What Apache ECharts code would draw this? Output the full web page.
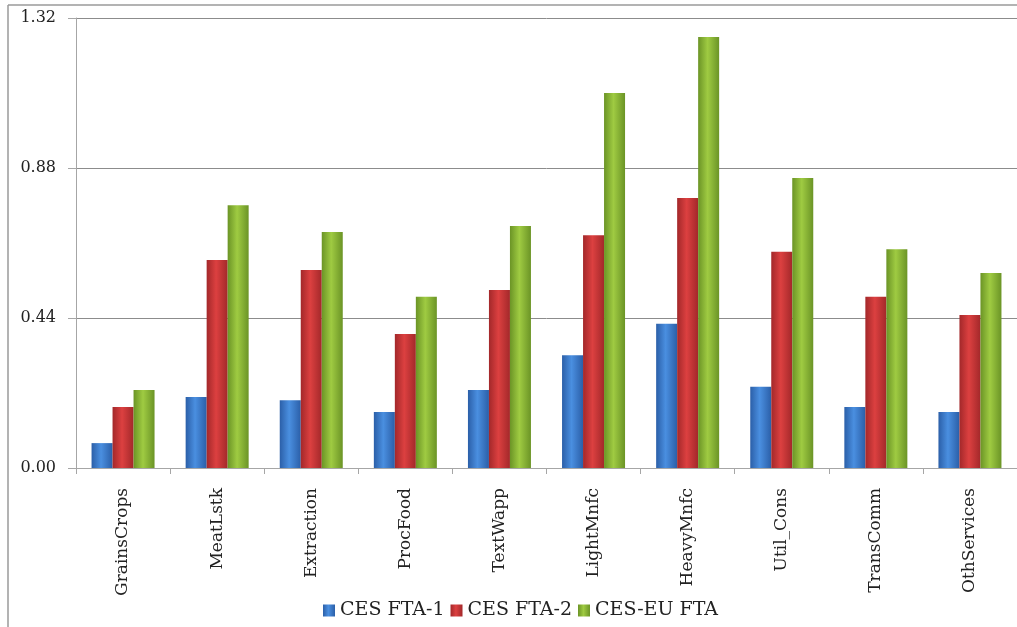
<!DOCTYPE html>
<html>
<head>
<meta charset="utf-8">
<script src="https://cdn.jsdelivr.net/npm/echarts@6/dist/echarts.min.js"></script>
<style>
  html, body { margin: 0; padding: 0; background: #fff; }
  #main { width: 1017px; height: 627px; }
</style>
</head>
<body>
<div id="main"></div>
<script>
  // 类别
  var categories = ['GrainsCrops', 'MeatLstk', 'Extraction', 'ProcFood', 'TextWapp',
    'LightMnfc', 'HeavyMnfc', 'Util_Cons', 'TransComm', 'OthServices'];
  // 图例
  var legendNames = ['CES FTA-1', 'CES FTA-2', 'CES-EU FTA'];
  // 各系列数值
  var fta1 = [0.073, 0.208, 0.199, 0.164, 0.229, 0.331, 0.423, 0.238, 0.179, 0.164];
  var fta2 = [0.179, 0.610, 0.581, 0.393, 0.522, 0.683, 0.792, 0.634, 0.502, 0.449];
  var euFta = [0.229, 0.771, 0.692, 0.502, 0.710, 1.100, 1.264, 0.851, 0.642, 0.572];
  // Y轴刻度
  var yTicks = [0, 0.44, 0.88, 1.32];

  function barColor(edge, mid) {
    return new echarts.graphic.LinearGradient(0, 0, 1, 0, [
      { offset: 0, color: edge },
      { offset: 0.45, color: mid },
      { offset: 1, color: edge }
    ]);
  }

  var chart = echarts.init(document.getElementById('main'));
  var serif = '"DejaVu Serif", "Liberation Serif", serif';

  chart.setOption({
    animation: false,
    grid: {
      left: 76,
      right: -10,
      top: 18,
      bottom: 159
    },
    legend: {
      bottom: 2,
      left: 318,
      icon: 'rect',
      itemWidth: 12,
      itemHeight: 12,
      itemGap: 6,
      textStyle: { fontFamily: serif, fontSize: 19, color: '#222' },
      data: legendNames
    },
    xAxis: {
      type: 'category',
      data: categories,
      axisLine: { lineStyle: { color: '#a6a6a6', width: 1 } },
      axisTick: { show: true, length: 6, lineStyle: { color: '#a6a6a6' } },
      axisLabel: {
        rotate: 90,
        margin: 20,
        fontFamily: serif,
        fontSize: 17,
        color: '#222'
      }
    },
    yAxis: {
      type: 'value',
      min: yTicks[0],
      max: yTicks[yTicks.length - 1],
      interval: 0.44,
      axisLine: { show: true, lineStyle: { color: '#a6a6a6', width: 1 } },
      axisTick: { show: true, length: 8, lineStyle: { color: '#a6a6a6' } },
      splitLine: { lineStyle: { color: '#8c8c8c', width: 1 } },
      axisLabel: {
        margin: 20,
        fontFamily: serif,
        fontSize: 16,
        color: '#222',
        formatter: function (v) { return v.toFixed(2); }
      }
    },
    series: [
      {
        name: legendNames[0],
        type: 'bar',
        barWidth: 21,
        barGap: '0%',
        itemStyle: { color: barColor('#2b5fa8', '#4a8fe0') },
        data: fta1
      },
      {
        name: legendNames[1],
        type: 'bar',
        barWidth: 21,
        barGap: '0%',
        itemStyle: { color: barColor('#a3282a', '#dc4040') },
        data: fta2
      },
      {
        name: legendNames[2],
        type: 'bar',
        barWidth: 21,
        barGap: '0%',
        itemStyle: { color: barColor('#6b9426', '#9fcb42') },
        data: euFta
      }
    ],
    graphic: [
      // 外边框
      { type: 'line', shape: { x1: 8, y1: 5, x2: 1017, y2: 5 }, style: { stroke: '#9a9a9a', lineWidth: 1.5 } },
      { type: 'line', shape: { x1: 8, y1: 5, x2: 8, y2: 627 }, style: { stroke: '#9a9a9a', lineWidth: 1.5 } }
    ]
  });
</script>
</body>
</html>
